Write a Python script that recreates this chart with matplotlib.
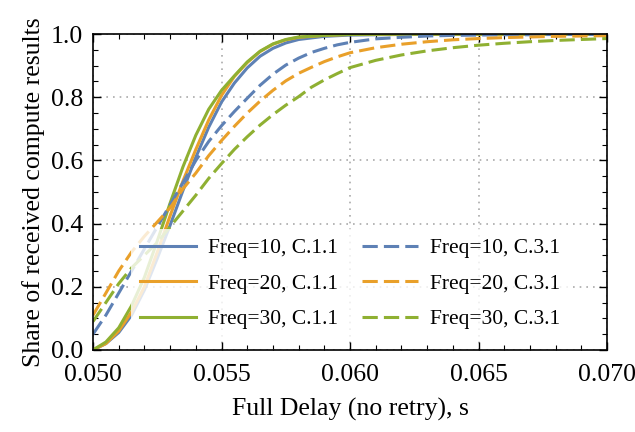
import matplotlib
matplotlib.use("Agg")
import matplotlib.pyplot as plt
from matplotlib.ticker import MultipleLocator, FormatStrFormatter

plt.rcParams['font.family'] = ['Liberation Serif', 'DejaVu Serif']

# Solid series (C.1.1)
x_solid = [0.0500, 0.0505, 0.0510, 0.0515, 0.0520, 0.0525, 0.0530, 0.0535, 0.0540,
           0.0545, 0.0550, 0.0555, 0.0560, 0.0565, 0.0570, 0.0575, 0.0580, 0.0590,
           0.0600, 0.0620, 0.0650, 0.0700]
f10_c11 = [0.000, 0.020, 0.055, 0.110, 0.190, 0.290, 0.395, 0.505, 0.610,
           0.705, 0.785, 0.845, 0.893, 0.930, 0.955, 0.972, 0.983, 0.993,
           0.997, 0.999, 1.000, 1.000]
f20_c11 = [0.000, 0.020, 0.060, 0.120, 0.200, 0.310, 0.425, 0.535, 0.635,
           0.728, 0.806, 0.866, 0.910, 0.945, 0.968, 0.982, 0.990, 0.996,
           0.999, 1.000, 1.000, 1.000]
f30_c11 = [0.000, 0.025, 0.070, 0.140, 0.230, 0.345, 0.465, 0.580, 0.680,
           0.762, 0.822, 0.868, 0.912, 0.946, 0.969, 0.983, 0.991, 0.996,
           0.999, 1.000, 1.000, 1.000]

# Dashed series (C.3.1)
x_dash = [0.0500, 0.0505, 0.0510, 0.0515, 0.0520, 0.0525, 0.0530, 0.0535, 0.0540,
          0.0545, 0.0550, 0.0555, 0.0560, 0.0565, 0.0570, 0.0575, 0.0580, 0.0585,
          0.0590, 0.0595, 0.0600, 0.0610, 0.0620, 0.0630, 0.0640, 0.0650, 0.0660,
          0.0670, 0.0680, 0.0690, 0.0700]
f10_c31 = [0.050, 0.110, 0.180, 0.250, 0.320, 0.390, 0.460, 0.530, 0.600,
           0.660, 0.710, 0.755, 0.797, 0.838, 0.873, 0.902, 0.924, 0.942,
           0.955, 0.966, 0.974, 0.985, 0.990, 0.994, 0.996, 0.997, 0.998,
           0.998, 0.999, 0.999, 0.999]
f20_c31 = [0.110, 0.180, 0.250, 0.310, 0.360, 0.405, 0.450, 0.510, 0.560,
           0.615, 0.663, 0.708, 0.750, 0.788, 0.822, 0.852, 0.876, 0.895,
           0.913, 0.928, 0.941, 0.957, 0.968, 0.976, 0.982, 0.986, 0.989,
           0.991, 0.993, 0.994, 0.995]
f30_c31 = [0.090, 0.150, 0.210, 0.260, 0.300, 0.340, 0.390, 0.440, 0.490,
           0.543, 0.590, 0.635, 0.675, 0.712, 0.745, 0.775, 0.802, 0.832,
           0.855, 0.875, 0.894, 0.917, 0.934, 0.947, 0.957, 0.965, 0.971,
           0.976, 0.980, 0.983, 0.986]

labels_solid = ["Freq=10, C.1.1", "Freq=20, C.1.1", "Freq=30, C.1.1"]
labels_dash = ["Freq=10, C.3.1", "Freq=20, C.3.1", "Freq=30, C.3.1"]
colors = ["#5E81B5", "#E9A02A", "#8FB032"]

fig = plt.figure(figsize=(6.35, 4.32), dpi=100)
ax = fig.add_axes([0.1465, 0.190, 0.8095, 0.731])

lw = 2.2
for ys, lab, c in zip([f10_c11, f20_c11, f30_c11], labels_solid, colors):
    ax.plot(x_solid, ys, color=c, lw=lw, label=lab)
for ys, lab, c in zip([f10_c31, f20_c31, f30_c31], labels_dash, colors):
    ax.plot(x_dash, ys, color=c, lw=lw, label=lab, linestyle=(0, (5.0, 2.0)))

ax.set_xlim(0.050, 0.070)
ax.set_ylim(0.0, 1.0)
ax.xaxis.set_major_locator(MultipleLocator(0.005))
ax.xaxis.set_minor_locator(MultipleLocator(0.001))
ax.yaxis.set_major_locator(MultipleLocator(0.2))
ax.yaxis.set_minor_locator(MultipleLocator(0.05))
ax.xaxis.set_major_formatter(FormatStrFormatter('%.3f'))
ax.yaxis.set_major_formatter(FormatStrFormatter('%.1f'))

ax.tick_params(which='both', direction='in', top=True, right=True, labelsize=18.5)
ax.tick_params(which='major', length=6, width=1.0)
ax.tick_params(axis='x', which='major', pad=10)
ax.tick_params(axis='y', which='major', pad=7)
ax.tick_params(which='minor', length=3.5, width=0.8)
for s in ax.spines.values():
    s.set_linewidth(1.2)

ax.grid(True, which='major', color='#aaaaaa', linestyle=(0, (1, 3)), linewidth=1.2)

ax.set_xlabel("Full Delay (no retry), s", fontsize=18.5, labelpad=9)
ax.set_ylabel("Share of received compute results", fontsize=18.5, labelpad=4)

leg = ax.legend(ncol=2, loc='lower center', bbox_to_anchor=(0.5, 0.0), fontsize=15.5,
                frameon=True, framealpha=0.8, edgecolor='none', fancybox=False,
                handlelength=2.6, handletextpad=0.55, columnspacing=1.1,
                labelspacing=0.72, borderpad=0.45)

fig.savefig("out.png", dpi=100)
